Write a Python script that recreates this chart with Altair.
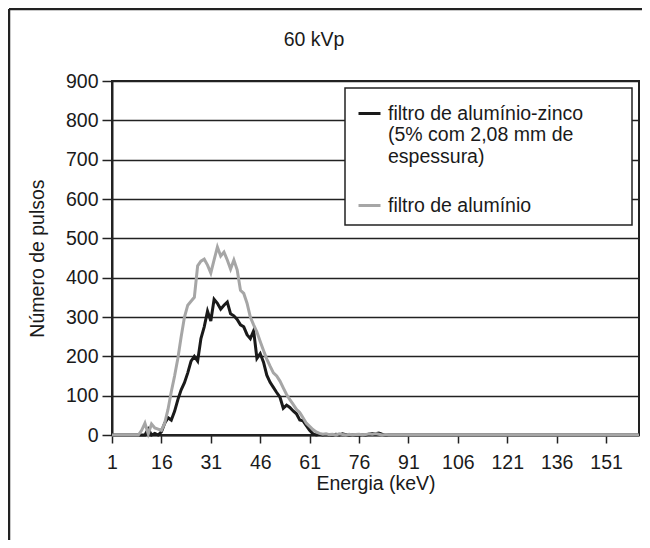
import altair as alt
import pandas as pd

FONT = "Liberation Sans"

energia = list(range(1, 162))

zinco = [
    0, 0, 0, 0, 0, 0, 0, 0, 0, 0,
    0, 15, 0, 4, 0, 8, 30, 44, 38, 60,
    90, 115, 133, 158, 188, 200, 188, 245, 275, 315,
    290, 345, 335, 320, 330, 338, 308, 303, 294, 280,
    275, 255, 245, 265, 195, 207, 185, 152, 134, 121,
    108, 96, 68, 76, 70, 61, 54, 38, 36, 24,
    12, 3, 0, 2, 0, 1, 0, 0, 2, 0,
    3, 1, 0, 0, 0, 0, 0, 0, 2, 4,
    3, 5, 2, 0, 0, 0, 0, 0, 0, 0,
    0, 0, 0, 0, 0, 0, 0, 0, 0, 0,
    0, 0, 0, 0, 0, 0, 0, 0, 0, 0,
    0, 0, 0, 0, 0, 0, 0, 0, 0, 0,
    0, 0, 0, 0, 0, 0, 0, 0, 0, 0,
    0, 0, 0, 0, 0, 0, 0, 0, 0, 0,
    0, 0, 0, 0, 0, 0, 0, 0, 0, 0,
    0, 0, 0, 0, 0, 0, 0, 0, 0, 0,
    0,
]

aluminio = [
    0, 0, 0, 0, 0, 0, 0, 0, 0, 12,
    30, 3, 28, 18, 15, 12, 30, 65, 110, 150,
    195, 250, 300, 330, 340, 350, 430, 442, 447, 432,
    412, 445, 478, 455, 465, 445, 422, 445, 420, 368,
    360, 335, 300, 280, 262, 238, 215, 193, 175, 158,
    150, 137, 120, 103, 90, 78, 65, 57, 44, 30,
    22, 14, 8, 4, 2, 3, 1, 2, 0, 3,
    1, 0, 2, 0, 1, 2, 0, 1, 3, 2,
    4, 2, 0, 1, 0, 0, 0, 0, 0, 0,
    0, 0, 0, 0, 0, 0, 0, 0, 0, 0,
    0, 0, 0, 0, 0, 0, 0, 0, 0, 0,
    0, 0, 0, 0, 0, 0, 0, 0, 0, 0,
    0, 0, 0, 0, 0, 0, 0, 0, 0, 0,
    0, 0, 0, 0, 0, 0, 0, 0, 0, 0,
    0, 0, 0, 0, 0, 0, 0, 0, 0, 0,
    0, 0, 0, 0, 0, 0, 0, 0, 0, 0,
    0,
]

series_keys = ["zinco", "aluminio"]
series_colors = ["#1a1a1a", "#a6a6a6"]
x_ticks = [1, 16, 31, 46, 61, 76, 91, 106, 121, 136, 151]
y_ticks = [0, 100, 200, 300, 400, 500, 600, 700, 800, 900]

df = pd.DataFrame({
    "E": energia + energia,
    "v": zinco + aluminio,
    "s": ["zinco"] * len(zinco) + ["aluminio"] * len(aluminio),
})

label_expr = ("datum.value == 'zinco' ? ['filtro de alumínio-zinco', "
              "'(5% com 2,08 mm de', 'espessura)'] : 'filtro de alumínio'")

color = alt.Color(
    "s:N",
    scale=alt.Scale(domain=series_keys, range=series_colors),
    legend=alt.Legend(
        orient="none", legendX=245, legendY=20, title=None,
        symbolType="stroke", symbolSize=484, symbolStrokeWidth=3,
        labelExpr=label_expr, labelFont=FONT, labelFontSize=19.5,
        labelColor="#1a1a1a", labelOffset=6, rowPadding=27, padding=0,
        labelLimit=400,
    ),
)

x = alt.X(
    "E:Q",
    scale=alt.Scale(domain=[1, 161], nice=False, zero=False),
    axis=alt.Axis(values=x_ticks, title="Energia (keV)", grid=False,
                  tickSize=8, labelPadding=10, labelFlush=False,
                  titleY=54, titleBaseline="alphabetic"),
)
y = alt.Y(
    "v:Q",
    scale=alt.Scale(domain=[0, 900], nice=False),
    axis=alt.Axis(values=y_ticks, title="Número de pulsos", grid=True,
                  gridColor="#222", gridWidth=1.5, tickSize=10,
                  labelPadding=4, labelFlush=False,
                  titleX=-65, titleY=177, titleBaseline="bottom",
                  titleFontWeight="normal"),
)

one = pd.DataFrame({"k": [0]})

border_left = alt.Chart(one).mark_rule(color="#222", strokeWidth=2.5).encode(
    x=alt.value(-103), y=alt.value(-72), y2=alt.value(459))
border_top = alt.Chart(one).mark_rule(color="#222", strokeWidth=2.5).encode(
    x=alt.value(-103), x2=alt.value(530), y=alt.value(-72))

legend_box = alt.Chart(one).mark_rect(
    fill="white", stroke="#222", strokeWidth=1.5
).encode(x=alt.value(233), x2=alt.value(520), y=alt.value(7), y2=alt.value(144))

title = alt.Chart(one).mark_text(
    text="60 kVp", font=FONT, fontSize=19.5, align="center",
    baseline="alphabetic", color="#1a1a1a"
).encode(x=alt.value(202), y=alt.value(-35))

line_black = alt.Chart(df).transform_filter(alt.datum.s == "zinco").mark_line(
    strokeWidth=3
).encode(x=x, y=y, color=color)
line_gray = alt.Chart(df).transform_filter(alt.datum.s == "aluminio").mark_line(
    strokeWidth=3
).encode(x=x, y=y, color=color)

chart = alt.layer(
    border_left, border_top, legend_box, line_black, line_gray, title
).properties(
    width=527, height=354,
    padding={"left": 104, "top": 73, "right": 3, "bottom": 105},
    autosize=alt.AutoSizeParams(type="none"),
).configure_view(
    stroke="#222", strokeWidth=2
).configure_axis(
    domainColor="#222", domainWidth=2, tickColor="#222", tickWidth=1.5,
    labelFont=FONT, labelFontSize=19.5, labelColor="#1a1a1a",
    titleFont=FONT, titleFontSize=19.5, titleFontWeight="normal",
    titleColor="#1a1a1a",
)

chart.save("out.html", embed_options={"renderer": "svg", "actions": False})
